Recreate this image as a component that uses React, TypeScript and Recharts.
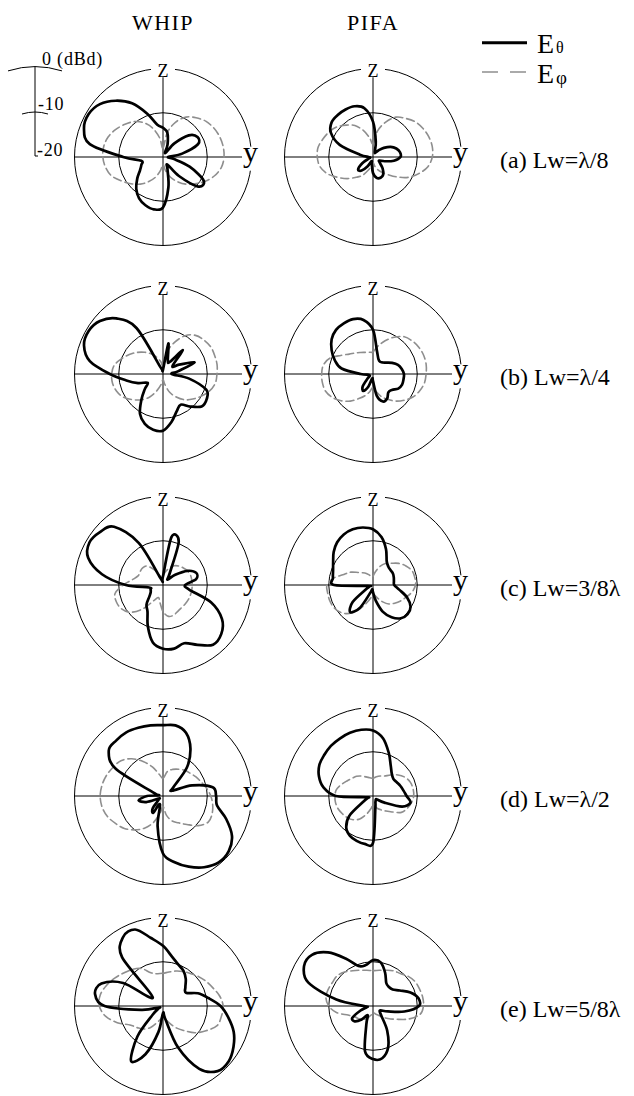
import React from 'react';
import { RadarChart, Radar, PolarGrid, PolarAngleAxis, PolarRadiusAxis } from 'recharts';

// polar angle from +z, clockwise toward +y (deg)
const ANGLES = [
  0, 10, 20, 30, 40, 50, 60, 70, 80, 90, 100, 110, 120, 130, 140, 150, 160, 170,
  180, 190, 200, 210, 220, 230, 240, 250, 260, 270, 280, 290, 300, 310, 320, 330, 340, 350,
];

// relative gain in dBd, one value per angle
const whipATheta = [-13.4, -14.4, -17, -19, -16, -12.4, -11, -11.6, -15.6, -18.8, -17.6, -13.6, -9.4, -9.6, -14.4, -18, -17, -13, -8.6, -8, -8.4, -9.2, -10.6, -12.4, -14, -14.8, -15, -11, -3.2, -1, -0.6, -1.4, -3.4, -6, -9.6, -12.6];
const whipAPhi = [-18, -14.4, -11.6, -9.6, -8.4, -7.4, -6.8, -6.4, -6.2, -6.2, -6.6, -7.6, -9, -10.6, -12, -13.6, -15.2, -17, -18.4, -17, -15.2, -13.6, -12, -10.6, -9.2, -7.6, -6.8, -6.4, -6.4, -6.8, -7.6, -8.6, -9.6, -11, -13, -15.6];
const pifaATheta = [-12, -16.4, -18.8, -18.8, -18, -16.8, -15.4, -14.4, -13.8, -13.8, -15.2, -17.2, -18.4, -18, -16.6, -15.4, -15, -15.2, -16.4, -18.4, -19, -17.6, -16, -15.6, -17.2, -19, -19.4, -19, -17, -12, -9, -7.8, -7.6, -7.6, -7.8, -8.8];
const pifaAPhi = [-17, -14, -11.6, -9.6, -8.6, -7.6, -7, -6.6, -6.4, -6.6, -7.4, -9, -10.8, -13, -14.8, -16, -17, -18, -18.8, -18, -16.8, -15.2, -14, -12.4, -10.8, -9, -7.8, -7.4, -7.4, -8, -8.6, -9.4, -10.6, -11.8, -13.6, -15.6];

const whipBTheta = [-19, -13, -16.8, -16.8, -13, -17.2, -15.8, -12.4, -16.6, -18, -14, -9.6, -8.6, -8.6, -10.4, -12, -11, -9, -7.2, -7.2, -8, -9.6, -12.4, -14.6, -16, -14, -11.6, -8, -3.2, -1, -0.6, -1.4, -3.6, -8, -18.4, -18.8];
const whipBPhi = [-18, -15, -12.4, -10, -8.6, -8, -7.6, -7.6, -7.6, -7.8, -8, -8.8, -10, -11.2, -12.4, -14, -15.6, -17.6, -18.8, -17.6, -16, -14, -12.4, -11, -9.6, -8.8, -8.4, -8.4, -8.8, -10, -11.2, -12.4, -13.6, -14.8, -16, -17.2];
const pifaBTheta = [-10, -14.8, -16.4, -16.8, -16.6, -16, -15, -14, -13.4, -13, -13, -13, -13.4, -14.4, -14.6, -13.6, -13.4, -15, -18.4, -19, -17, -15.6, -16.4, -18.4, -19.2, -19, -19, -17.2, -12.8, -10.8, -9.2, -7.8, -7, -6.8, -6.8, -7.6];
const pifaBPhi = [-15, -13.6, -12, -10.4, -9, -8.4, -8, -7.8, -7.8, -8, -8.2, -8.8, -9.6, -10.8, -12, -13.4, -14.6, -16, -17, -16, -14.8, -13.6, -12, -10.6, -9.4, -8.6, -8.4, -8.4, -8.6, -9.6, -11.6, -13, -13.8, -14.4, -14.8, -15];

const whipCTheta = [-18, -9, -9.6, -17, -18.4, -16.4, -13.6, -12, -12.4, -15, -14, -8.4, -4.6, -2.8, -2.4, -4.4, -6, -5.4, -5.6, -6.8, -10, -13, -14.2, -16, -16.8, -17, -16.8, -11.6, -6, -2, -0.8, -1.4, -2.8, -9, -18.4, -19];
const whipCPhi = [-18, -17, -16, -15, -14.4, -14, -13.6, -13.4, -13.4, -13.4, -13.4, -13.4, -13.4, -13.4, -13.4, -13.2, -12.8, -12.8, -14, -16, -17, -16, -13, -10.4, -9.2, -8.8, -9, -11, -13, -14, -14, -14, -14.4, -16, -17.6, -18.4];
const pifaCTheta = [-7.4, -9, -11.4, -13.8, -14.6, -14.8, -14.8, -15, -15.2, -15.2, -14, -11.8, -10.2, -9.8, -10.2, -11.6, -13.6, -16.4, -18.4, -19, -18, -14, -12, -14, -18.4, -19.2, -18.8, -11.2, -10.8, -10.4, -9.6, -8.4, -7.4, -6.8, -6.6, -6.8];
const pifaCPhi = [-18, -17, -15.6, -14.4, -13.6, -12.4, -11.4, -10.6, -10.4, -10.4, -11, -12, -12.8, -13.6, -14.4, -15.6, -16.8, -17.6, -18, -17, -15.6, -13.6, -11.6, -10.4, -9.8, -9.6, -9.6, -9.6, -11, -13, -14.2, -15.6, -16.4, -17, -17.6, -18];

const whipDTheta = [-4, -3.8, -4.8, -7.6, -11.6, -17, -17.6, -13, -8.6, -8, -7.6, -4.8, -2, -0.6, -0.4, -1.4, -3, -4.8, -7, -13, -18, -15.6, -16.4, -18.8, -18.8, -16, -14.4, -16.4, -19, -17.6, -7.6, -4, -3.6, -3.4, -3.6, -3.8];
const whipDPhi = [-16, -14.4, -13.6, -13, -12.4, -12, -11.4, -10.8, -10, -9.2, -8.6, -8.2, -8.2, -9.6, -11.6, -13, -14, -15.6, -17.6, -16, -13.6, -11.6, -10, -8.6, -7.6, -6.6, -6, -5.8, -6, -6.4, -7, -7.6, -9, -11, -13, -15];
const pifaDTheta = [-5.2, -6.8, -9.6, -12, -13.4, -14, -13.8, -13.4, -13, -12.4, -11.4, -13, -17, -18.8, -19, -18.8, -18.4, -17, -9.4, -9, -9.2, -9.6, -10.6, -13, -17.6, -18.8, -18.4, -11.6, -8.6, -7, -6, -5.6, -5.2, -5, -4.8, -4.8];
const pifaDPhi = [-16, -15.6, -15.2, -14.8, -13.8, -12.6, -11.6, -11, -10.8, -10.8, -11.2, -11.8, -12.6, -14.4, -15.6, -16.4, -17, -17.6, -18, -17, -15.6, -14, -13, -12.4, -12, -11.6, -11.4, -11.4, -11.6, -12.4, -13.2, -13.8, -14.2, -14.8, -15.4, -15.8];

const whipETheta = [-6.4, -8.6, -10, -10.8, -12, -13.4, -14, -11.6, -9.6, -7, -5, -3, -1.6, -0.6, -0.8, -3.6, -10, -17, -18.4, -14, -8.4, -5.6, -11, -17, -18.8, -19, -15, -6.8, -4.4, -5.2, -9.6, -17, -5.6, -2, -1.6, -4.4];
const whipEPhi = [-12.6, -12.2, -11.6, -11, -10.4, -9.6, -8.8, -8, -7, -6.4, -6.6, -7, -8.8, -10.6, -12.8, -14.4, -16, -17, -17.6, -17, -16, -14.4, -13.2, -12.4, -11.4, -9, -6.8, -5.6, -5.6, -6.4, -7.4, -8.4, -9.2, -10.2, -12, -12.6];
const pifaETheta = [-9.6, -10, -12, -14, -14.4, -14.2, -13, -11, -9.6, -9.6, -12.8, -16.4, -18, -18, -17, -13.6, -10, -8, -8, -9.6, -15.6, -17.6, -16, -14.6, -14.6, -17, -18.6, -18, -11.6, -4.4, -2, -2, -4.2, -7.6, -10.4, -10.6];
const pifaEPhi = [-12, -11.8, -11.4, -10.8, -10.4, -9.6, -9, -8.8, -8.6, -8.6, -9.2, -11.4, -14, -15.6, -16.8, -17.6, -18, -18.4, -18.4, -18, -17.4, -16.6, -16, -15.6, -15.2, -14, -11.6, -10, -9.2, -9.2, -9.4, -9.4, -10, -10.8, -11.4, -11.8];

const ROW_LABELS = ['(a) Lw=λ/8', '(b) Lw=λ/4', '(c) Lw=3/8λ', '(d) Lw=λ/2', '(e) Lw=5/8λ'];
const COLUMN_TITLES = ['WHIP', 'PIFA'];
const SCALE_LABELS = ['0 (dBd)', '-10', '-20'];

const WHIP = [
  [whipATheta, whipAPhi],
  [whipBTheta, whipBPhi],
  [whipCTheta, whipCPhi],
  [whipDTheta, whipDPhi],
  [whipETheta, whipEPhi],
];
const PIFA = [
  [pifaATheta, pifaAPhi],
  [pifaBTheta, pifaBPhi],
  [pifaCTheta, pifaCPhi],
  [pifaDTheta, pifaDPhi],
  [pifaETheta, pifaEPhi],
];

const COL_X = [163, 373];
const ROW_Y = [156.7, 374.3, 585.3, 796.3, 1006];
const R = 88.5;
const BOX = 200;
const FONT = '"Liberation Serif", "DejaVu Serif", serif';
const PHI_GREY = '#8e8e8e';

// closed Catmull-Rom through the radar vertices
function closedSpline(pts: { x: number; y: number }[]) {
  const n = pts.length;
  if (!n) return '';
  let d = `M${pts[0].x},${pts[0].y}`;
  for (let i = 0; i < n; i++) {
    const p0 = pts[(i - 1 + n) % n];
    const p1 = pts[i];
    const p2 = pts[(i + 1) % n];
    const p3 = pts[(i + 2) % n];
    const c1x = p1.x + (p2.x - p0.x) / 6;
    const c1y = p1.y + (p2.y - p0.y) / 6;
    const c2x = p2.x - (p3.x - p1.x) / 6;
    const c2y = p2.y - (p3.y - p1.y) / 6;
    d += ` C${c1x},${c1y} ${c2x},${c2y} ${p2.x},${p2.y}`;
  }
  return d + 'Z';
}

const smoothShape = (stroke: string, width: number, dash?: string) => (props: any) => (
  <path
    d={closedSpline(props.points || [])}
    fill="none"
    stroke={stroke}
    strokeWidth={width}
    strokeDasharray={dash}
    strokeLinejoin="round"
    strokeLinecap="round"
  />
);

function PatternPlot({ cx, cy, theta, phi }: { cx: number; cy: number; theta: number[]; phi: number[] }) {
  const rows = ANGLES.map((a, i) => ({ angle: a, theta: theta[i], phi: phi[i] }));
  return (
    <div style={{ position: 'absolute', left: cx - BOX / 2, top: cy - BOX / 2 }}>
      <RadarChart
        width={BOX}
        height={BOX}
        data={rows}
        cx={BOX / 2}
        cy={BOX / 2}
        innerRadius={0}
        outerRadius={R}
        startAngle={90}
        endAngle={-270}
        margin={{ top: 0, right: 0, bottom: 0, left: 0 }}
      >
        <PolarGrid gridType="circle" polarRadius={[R / 2, R]} polarAngles={[0, 90, 180, 270]} stroke="#000" strokeWidth={1} />
        <PolarAngleAxis dataKey="angle" tick={false} tickLine={false} axisLine={false} />
        <PolarRadiusAxis type="number" domain={[-20, 0]} tick={false} axisLine={false} />
        <Radar
          dataKey="phi"
          stroke={PHI_GREY}
          fill="none"
          isAnimationActive={false}
          shape={smoothShape(PHI_GREY, 1.6, '8 4')}
        />
        <Radar
          dataKey="theta"
          stroke="#000"
          fill="none"
          isAnimationActive={false}
          shape={smoothShape('#000', 2.7)}
        />
      </RadarChart>
    </div>
  );
}

function AxisLabels({ cx, cy }: { cx: number; cy: number }) {
  return (
    <g>
      <rect x={cx - 12} y={cy - R - 6} width={24} height={15} fill="#fff" />
      <text x={cx} y={cy - R + 9} fontSize={18} textAnchor="middle">Z</text>
      <rect x={cx + 79} y={cy - 10} width={20} height={24} fill="#fff" />
      <text x={cx + 80} y={cy + 5} fontSize={30}>y</text>
    </g>
  );
}

export default function App() {
  return (
    <div style={{ position: 'absolute', left: 0, top: 0, width: 634, height: 1096, background: '#fff', fontFamily: FONT }}>
      {ROW_Y.map((cy, r) => (
        <React.Fragment key={r}>
          <PatternPlot cx={COL_X[0]} cy={cy} theta={WHIP[r][0]} phi={WHIP[r][1]} />
          <PatternPlot cx={COL_X[1]} cy={cy} theta={PIFA[r][0]} phi={PIFA[r][1]} />
        </React.Fragment>
      ))}
      <svg width={634} height={1096} style={{ position: 'absolute', left: 0, top: 0, fontFamily: FONT }}>
        {COLUMN_TITLES.map((t, i) => (
          <text key={t} x={COL_X[i]} y={29.5} fontSize={22} letterSpacing={1.5} textAnchor="middle">{t}</text>
        ))}

        {/* dB scale bar */}
        <line x1={35} y1={66.7} x2={35} y2={156} stroke="#000" strokeWidth={1} />
        <line x1={35} y1={156} x2={38} y2={156} stroke="#000" strokeWidth={1} />
        <path d={`M8,70.9 A${R},${R} 0 0 1 62,70.9`} fill="none" stroke="#000" strokeWidth={1} />
        <path d={`M22,114 A${R / 2},${R / 2} 0 0 1 48,114`} fill="none" stroke="#000" strokeWidth={1} />
        <text x={42} y={65} fontSize={18} letterSpacing={0.8}>{SCALE_LABELS[0]}</text>
        <text x={38} y={110} fontSize={18} letterSpacing={0.8}>{SCALE_LABELS[1]}</text>
        <text x={37} y={156} fontSize={18} letterSpacing={0.8}>{SCALE_LABELS[2]}</text>

        {/* legend */}
        <line x1={482} y1={42.7} x2={527} y2={42.7} stroke="#000" strokeWidth={3} />
        <text x={537} y={53.3} fontSize={28}>E</text>
        <text x={556} y={53} fontSize={16}>θ</text>
        <line x1={482} y1={72} x2={527} y2={72} stroke={PHI_GREY} strokeWidth={1.6} strokeDasharray="16 12" />
        <text x={537} y={83.3} fontSize={28}>E</text>
        <text x={556} y={84} fontSize={19}>φ</text>

        {ROW_Y.map((cy, r) => (
          <g key={r}>
            <AxisLabels cx={COL_X[0]} cy={cy} />
            <AxisLabels cx={COL_X[1]} cy={cy} />
            <text x={500} y={cy + 11} fontSize={24}>{ROW_LABELS[r]}</text>
          </g>
        ))}
      </svg>
    </div>
  );
}
